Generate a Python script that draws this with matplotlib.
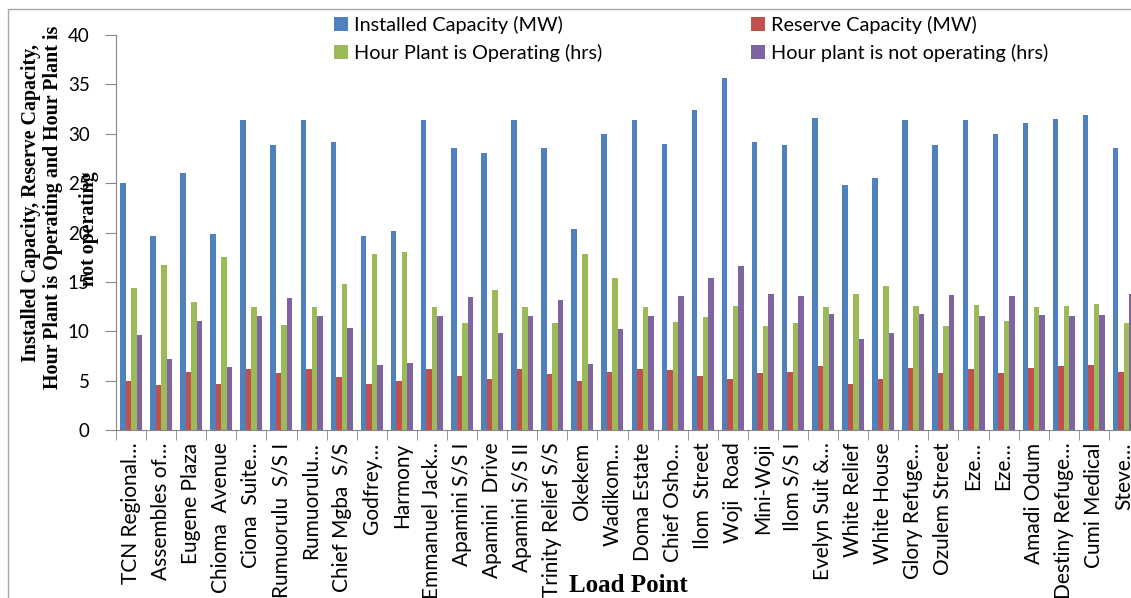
import numpy as np
import matplotlib
matplotlib.use('Agg')
import matplotlib.pyplot as plt
from matplotlib.patches import Rectangle, Patch

load_points = ['TCN Regional…', 'Assembles of…', 'Eugene Plaza', 'Chioma  Avenue',
               'Ciona  Suite…', 'Rumuorulu  S/S I', 'Rumuorulu…', 'Chief Mgba  S/S',
               'Godfrey…', 'Harmony', 'Emmanuel Jack…', 'Apamini S/S I',
               'Apamini  Drive', 'Apamini S/S II', 'Trinity Relief S/S', 'Okekem',
               'Wadikom…', 'Doma Estate', 'Chief Osho…', 'Ilom  Street',
               'Woji  Road', 'Mini-Woji', 'Ilom S/S I', 'Evelyn Suit &…',
               'White Relief', 'White House', 'Glory Refuge…', 'Ozulem Street',
               'Eze…', 'Eze…', 'Amadi Odum', 'Destiny Refuge…',
               'Cumi Medical', 'Steve…']

installed = [25.0, 19.6, 26.0, 19.8, 31.4, 28.9, 31.4, 29.2, 19.6, 20.2,
             31.4, 28.6, 28.1, 31.4, 28.6, 20.4, 30.0, 31.4, 29.0, 32.4,
             35.6, 29.2, 28.9, 31.6, 24.8, 25.5, 31.4, 28.9, 31.4, 30.0,
             31.1, 31.5, 31.9, 28.6]
reserve = [5.0, 4.6, 5.9, 4.7, 6.2, 5.8, 6.2, 5.4, 4.7, 5.0,
           6.2, 5.5, 5.2, 6.2, 5.7, 5.0, 5.9, 6.2, 6.1, 5.5,
           5.2, 5.8, 5.9, 6.5, 4.7, 5.2, 6.3, 5.8, 6.2, 5.8,
           6.3, 6.5, 6.6, 5.9]
hrs_on = [14.4, 16.7, 13.0, 17.5, 12.5, 10.6, 12.5, 14.8, 17.8, 18.0,
          12.5, 10.8, 14.2, 12.5, 10.8, 17.8, 15.4, 12.5, 10.9, 11.4,
          12.6, 10.5, 10.8, 12.5, 13.8, 14.6, 12.6, 10.5, 12.7, 11.0,
          12.5, 12.6, 12.8, 10.8]
hrs_off = [9.6, 7.2, 11.0, 6.4, 11.5, 13.4, 11.5, 10.3, 6.6, 6.8,
           11.5, 13.5, 9.8, 11.5, 13.2, 6.7, 10.2, 11.5, 13.6, 15.4,
           16.6, 13.8, 13.6, 11.7, 9.2, 9.8, 11.7, 13.7, 11.5, 13.6,
           11.6, 11.5, 11.6, 13.8]

series = [
    ('Installed Capacity (MW)', installed, '#4F81BD'),
    ('Reserve Capacity (MW)', reserve, '#C0504D'),
    ('Hour Plant is Operating (hrs)', hrs_on, '#9BBB59'),
    ('Hour plant is not operating (hrs)', hrs_off, '#8064A2'),
]

W, H = 1131, 598
fig = plt.figure(figsize=(W / 100, H / 100), dpi=100)
fig.patch.set_facecolor('white')

# plot area runs past the right edge of the figure
ax = fig.add_axes([116 / W, (H - 430) / H, 1023 / W, 395 / H])

x = np.arange(len(load_points))
bw = 0.183
for k, (name, vals, col) in enumerate(series):
    ax.bar(x + (k - 1.5) * bw, vals, bw, color=col, label=name, linewidth=0)

grey = '#868686'
ax.set_xlim(-0.5, len(load_points) - 0.5)
ax.set_ylim(0, 40)
ax.set_yticks(np.arange(0, 41, 5))
ax.set_xticks(x)
ax.set_xticklabels(load_points, rotation=90, family='Lato', fontsize=15, va='top')
ax.set_xticks(np.arange(-0.5, len(load_points)), minor=True)
ax.tick_params(axis='x', which='major', length=0, pad=9)
ax.tick_params(axis='x', which='minor', length=7, color=grey, direction='out')
ax.tick_params(axis='y', length=8, color=grey, pad=11, labelsize=13.5)
for t in ax.get_yticklabels():
    t.set_family('Lato')
for s in ['top', 'right']:
    ax.spines[s].set_visible(False)
for s in ['left', 'bottom']:
    ax.spines[s].set_color(grey)

# y label drawn line by line
ylab = dict(rotation=90, family='Liberation Serif', fontweight='bold', fontsize=14.4,
            ha='center', va='center')
fig.text(31 / W, 1 - 203 / H, 'Installed Capacity, Reserve Capacity,', **ylab)
fig.text(53 / W, 1 - 207 / H, 'Hour Plant is Operating and Hour Plant is', **ylab)
fig.text(89 / W, 1 - 229 / H, 'not operating', **ylab)

fig.text(628 / W, 1 - 586 / H, 'Load Point', family='Liberation Serif',
         fontweight='bold', fontsize=18, ha='center', va='center')

# legend filled column-wise, so order gives rows: installed/reserve, on/off
order = [0, 2, 1, 3]
handles = [Patch(facecolor=series[i][2]) for i in order]
labels = [series[i][0] for i in order]
fig.legend(handles, labels, ncol=2, loc='upper left',
           bbox_to_anchor=(334 / W, 1 - 16 / H), frameon=False,
           prop={'family': 'Lato', 'size': 14.3},
           handlelength=0.7, handleheight=0.7, handletextpad=0.3,
           labelspacing=0.48, columnspacing=7.5, borderaxespad=0, borderpad=0)

fig.add_artist(Rectangle((8 / W, -0.1), 1.2, 1.1 - 9 / H, transform=fig.transFigure,
                         fill=False, edgecolor='#A6A6A6', linewidth=1))

plt.savefig('out.png', dpi=100)
plt.close(fig)
